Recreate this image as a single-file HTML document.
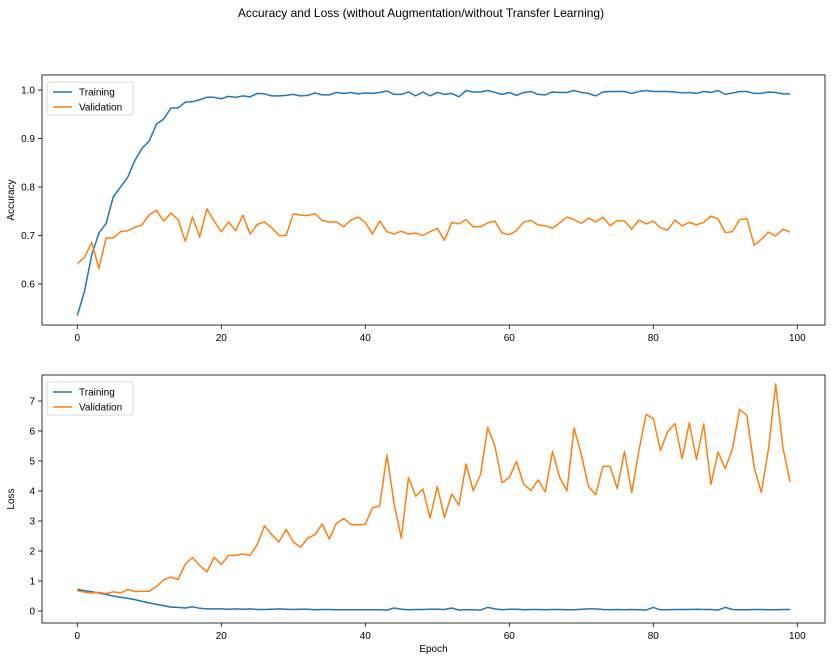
<!DOCTYPE html>
<html><head><meta charset="utf-8"><style>
body{margin:0;background:#fff;}
svg text{font-family:"Liberation Sans","DejaVu Sans",sans-serif;fill:#000;}
</style></head><body>
<svg id="c" width="832" height="660" xmlns="http://www.w3.org/2000/svg">
<text x="421" y="17" font-size="12" text-anchor="middle">Accuracy and Loss (without Augmentation/without Transfer Learning)</text>
</svg>
<script>
const epochs = Array.from({length:100},(_,i)=>i);
const accTrain = [0.535,0.585,0.66,0.705,0.725,0.78,0.80,0.82,0.855,0.88,0.895,0.93,0.94,0.963,0.963,0.975,0.976,0.98,0.985,0.985,0.982,0.987,0.985,0.988,0.986,0.993,0.992,0.988,0.988,0.989,0.991,0.988,0.989,0.994,0.99,0.99,0.995,0.993,0.995,0.992,0.994,0.993,0.995,0.998,0.991,0.991,0.996,0.988,0.996,0.988,0.995,0.991,0.993,0.986,0.999,0.996,0.996,0.999,0.995,0.991,0.995,0.989,0.995,0.997,0.991,0.99,0.996,0.995,0.995,0.999,0.995,0.993,0.988,0.996,0.997,0.997,0.997,0.993,0.997,0.999,0.997,0.997,0.997,0.996,0.994,0.995,0.993,0.997,0.995,0.999,0.991,0.994,0.997,0.997,0.993,0.993,0.996,0.995,0.992,0.992];
const accVal = [0.642,0.655,0.686,0.632,0.695,0.695,0.708,0.71,0.717,0.722,0.743,0.752,0.73,0.746,0.733,0.688,0.738,0.697,0.755,0.73,0.708,0.728,0.71,0.742,0.703,0.723,0.728,0.716,0.70,0.70,0.745,0.742,0.741,0.745,0.731,0.728,0.728,0.718,0.732,0.738,0.727,0.703,0.73,0.708,0.703,0.709,0.703,0.705,0.70,0.708,0.715,0.69,0.727,0.724,0.733,0.718,0.718,0.726,0.73,0.705,0.702,0.71,0.728,0.731,0.722,0.72,0.715,0.726,0.738,0.733,0.725,0.736,0.728,0.738,0.72,0.731,0.73,0.713,0.732,0.724,0.73,0.716,0.711,0.732,0.72,0.727,0.722,0.727,0.74,0.734,0.706,0.708,0.733,0.735,0.68,0.692,0.707,0.699,0.713,0.707];
const lossTrain = [0.72,0.68,0.64,0.6,0.55,0.5,0.46,0.42,0.38,0.32,0.27,0.22,0.18,0.13,0.12,0.1,0.14,0.09,0.07,0.07,0.07,0.06,0.07,0.06,0.07,0.05,0.05,0.06,0.07,0.06,0.05,0.06,0.06,0.04,0.05,0.05,0.04,0.04,0.04,0.04,0.04,0.04,0.04,0.03,0.1,0.06,0.04,0.05,0.05,0.06,0.06,0.05,0.1,0.03,0.04,0.04,0.03,0.12,0.07,0.04,0.06,0.06,0.04,0.05,0.05,0.04,0.05,0.05,0.04,0.04,0.06,0.07,0.07,0.05,0.04,0.05,0.04,0.05,0.04,0.03,0.12,0.04,0.04,0.05,0.05,0.05,0.06,0.05,0.05,0.03,0.12,0.05,0.04,0.04,0.05,0.05,0.04,0.04,0.05,0.05];
const lossVal = [0.68,0.63,0.6,0.62,0.58,0.64,0.60,0.72,0.65,0.66,0.66,0.82,1.04,1.13,1.05,1.57,1.78,1.52,1.30,1.79,1.55,1.85,1.86,1.9,1.86,2.22,2.84,2.55,2.3,2.72,2.3,2.12,2.43,2.54,2.9,2.4,2.93,3.08,2.88,2.87,2.89,3.44,3.5,5.2,3.58,2.43,4.45,3.82,4.07,3.1,4.15,3.12,3.9,3.52,4.9,4.0,4.55,6.12,5.5,4.28,4.45,4.98,4.23,4.02,4.37,3.97,5.32,4.45,4.0,6.1,5.22,4.15,3.88,4.82,4.82,4.08,5.32,3.95,5.35,6.55,6.42,5.35,5.98,6.25,5.08,6.27,5.05,6.23,4.22,5.3,4.75,5.42,6.72,6.52,4.8,3.95,5.4,7.57,5.45,4.3];
const xTicks = [0,20,40,60,80,100];
const accTicks = [0.6,0.7,0.8,0.9,1.0];
const lossTicks = [0,1,2,3,4,5,6,7];

const svg = document.getElementById('c');
const NS='http://www.w3.org/2000/svg';
function mk(tag,attrs,parent){const e=document.createElementNS(NS,tag);for(const k in attrs)e.setAttribute(k,attrs[k]);(parent||svg).appendChild(e);return e;}

function panel(name,box,xMap,yMin,yMax,yTicks,fmt,series,ylabel,xlabel){
  const g=mk('g',{});
  
  
  const y=v=>box.y1-(v-yMin)/(yMax-yMin)*(box.y1-box.y0);
  const x=v=>xMap(v);
  xTicks.forEach(t=>{
    const tl=mk('line',{x1:x(t),x2:x(t),y1:box.y1,y2:box.y1+4,stroke:'#000','stroke-width':0.8},g);
    
    
    const tt=mk('text',{x:x(t),y:box.y1+16,'font-size':10,'text-anchor':'middle'},g);
    tt.textContent=t;
    
    
  });
  yTicks.forEach(t=>{
    const tl=mk('line',{x1:box.x0-4,x2:box.x0,y1:y(t),y2:y(t),stroke:'#000','stroke-width':0.8},g);
    
    
    const tt=mk('text',{x:box.x0-7,y:y(t)+3.5,'font-size':10,'text-anchor':'end'},g);
    tt.textContent=fmt(t);
    
    
  });
  series.forEach(s=>{
    const p=mk('polyline',{points:epochs.map((e,i)=>x(e)+','+y(s.v[i])).join(' '),fill:'none',stroke:s.c,'stroke-width':1.5,'stroke-linejoin':'round'},g);
    
    
  });
  const fr=mk('rect',{x:box.x0,y:box.y0,width:box.x1-box.x0,height:box.y1-box.y0,fill:'none',stroke:'#000','stroke-width':0.8},g);
  
  
  const yl=mk('text',{x:0,y:0,'font-size':10,'text-anchor':'middle',transform:`translate(14,${(box.y0+box.y1)/2}) rotate(-90)`},g);
  yl.textContent=ylabel;
  
  
  if(xlabel){
    const xl=mk('text',{x:(box.x0+box.x1)/2,y:box.y1+29,'font-size':10,'text-anchor':'middle'},g);
    xl.textContent=xlabel;
    
    
  }
  const lg=mk('g',{},g);
  
  
  mk('rect',{x:box.x0+5,y:box.y0+7,width:86,height:33,rx:2,fill:'#fff',stroke:'#ccc','stroke-width':0.8},lg);
  series.forEach((s,i)=>{
    const yy=box.y0+17+i*15;
    const ln=mk('line',{x1:box.x0+11,x2:box.x0+30,y1:yy,y2:yy,stroke:s.c,'stroke-width':1.5},lg);
    
    
    const t=mk('text',{x:box.x0+37,y:yy+3.5,'font-size':10},lg);
    t.textContent=s.label;
    
    
  });
}
const xMap=v=>77.3+v*7.2;
panel('accuracy-chart',{x0:42,x1:825,y0:75,y1:325},xMap,0.5155,1.031,accTicks,t=>t.toFixed(1),
  [{v:accTrain,c:'#1f77b4',n:'accuracy-training-line',label:'Training'},{v:accVal,c:'#ff7f0e',n:'accuracy-validation-line',label:'Validation'}],'Accuracy',null);
panel('loss-chart',{x0:42,x1:825,y0:375,y1:623},xMap,-0.4,7.867,lossTicks,t=>String(t),
  [{v:lossTrain,c:'#1f77b4',n:'loss-training-line',label:'Training'},{v:lossVal,c:'#ff7f0e',n:'loss-validation-line',label:'Validation'}],'Loss','Epoch');
</script>
</body></html>
